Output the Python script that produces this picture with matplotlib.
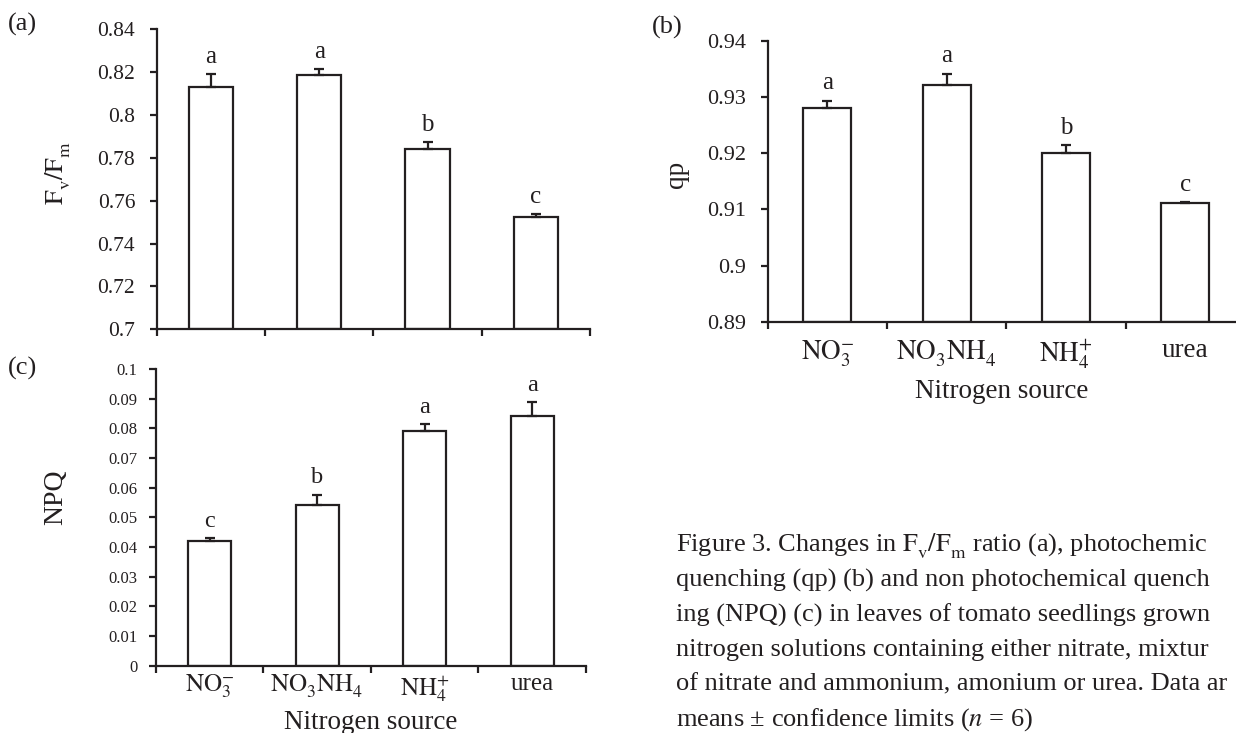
import numpy as np
import matplotlib
matplotlib.use("Agg")
import matplotlib.pyplot as plt

plt.rcParams["font.family"] = ["Liberation Serif", "DejaVu Serif"]
plt.rcParams["mathtext.fontset"] = "stix"

ink = "#231f20"

# an empty superscript pushes the subscript down like in the print
sources = ["$\\mathrm{NO}_{3}^{-}$", "$\\mathrm{NO}_{3}^{\\,}\\mathrm{NH}_{4}^{\\,}$",
           "$\\mathrm{NH}_{4}^{+}$", "urea"]

# (a) Fv/Fm
fvfm = [0.813, 0.8185, 0.784, 0.7525]
fvfm_err = [0.006, 0.003, 0.0036, 0.0012]
fvfm_letters = ["a", "a", "b", "c"]
fvfm_ticks = [0.7, 0.72, 0.74, 0.76, 0.78, 0.8, 0.82, 0.84]

# (b) qp
qp = [0.9281, 0.9321, 0.9200, 0.9112]
qp_err = [0.0013, 0.0021, 0.0014, 0.0001]
qp_letters = ["a", "a", "b", "c"]
qp_ticks = [0.89, 0.9, 0.91, 0.92, 0.93, 0.94]

# (c) NPQ
npq = [0.042, 0.054, 0.079, 0.084]
npq_err = [0.001, 0.0037, 0.0024, 0.005]
npq_letters = ["c", "b", "a", "a"]
npq_ticks = [0, 0.01, 0.02, 0.03, 0.04, 0.05, 0.06, 0.07, 0.08, 0.09, 0.1]

fvfm_label = "$\\mathrm{F}_{\\mathrm{v}}^{\\,}/\\mathrm{F}_{\\mathrm{m}}^{\\,}$"

# caption as far as it is visible (the page cuts it at the right edge)
caption = [
    "Figure 3. Changes in " + fvfm_label + " ratio (a), photochemic",
    "quenching (qp) (b) and non photochemical quench",
    "ing (NPQ) (c) in leaves of tomato seedlings grown",
    "nitrogen solutions containing either nitrate, mixtur",
    "of nitrate and ammonium, amonium or urea. Data ar",
    "means \u00b1 confidence limits ($n$ = 6)",
]

fig = plt.figure(figsize=(12.36, 7.33), dpi=100)


def panel(rect, vals, errs, letters, ticks, width, ylab, ytick_fs, xtick_fs,
          xtick_pad, ytick_pad, ylab_fs, ylab_xy, letter_fs, xlabel_y=None,
          show_x=True):
    ax = fig.add_axes(rect)
    x = np.arange(len(vals)) + 0.5
    base = ticks[0]
    vals = np.array(vals)
    ax.bar(x, vals - base, bottom=base, width=width, color="white",
           edgecolor=ink, linewidth=1.6, zorder=2)
    ax.errorbar(x, vals, yerr=[np.zeros(len(vals)), errs], fmt="none",
                ecolor=ink, elinewidth=1.6, capsize=3.5, capthick=1.6, zorder=3)
    for xi, v, e, l in zip(x, vals, errs, letters):
        ax.annotate(l, (xi, v + e), xytext=(0, 8), textcoords="offset points",
                    ha="center", va="baseline", fontsize=letter_fs, color=ink)
    ax.set_xlim(0, len(vals))
    ax.set_ylim(ticks[0], ticks[-1])
    ax.set_yticks(ticks)
    ax.set_yticklabels(["{:g}".format(t) for t in ticks])
    ax.set_xticks(np.arange(len(vals) + 1))
    ax.set_xticklabels([])
    if show_x:
        ax.set_xticks(x, sources, minor=True)
        ax.tick_params(axis="x", which="minor", length=0, pad=xtick_pad,
                       labelsize=xtick_fs, labelcolor=ink)
    ax.tick_params(axis="x", which="major", length=5, width=1.6, color=ink,
                   direction="out")
    ax.tick_params(axis="y", length=5, width=1.6, color=ink, direction="out",
                   pad=ytick_pad, labelsize=ytick_fs, labelcolor=ink)
    for s in ["top", "right"]:
        ax.spines[s].set_visible(False)
    for s in ["left", "bottom"]:
        ax.spines[s].set_linewidth(1.6)
        ax.spines[s].set_color(ink)
    ax.set_ylabel(ylab, fontsize=ylab_fs, color=ink)
    ax.yaxis.set_label_coords(*ylab_xy)
    ax.yaxis.label.set_verticalalignment("center")
    if xlabel_y is not None:
        ax.set_xlabel("Nitrogen source", fontsize=19.5, color=ink)
        ax.xaxis.set_label_coords(xlabel_y[0], xlabel_y[1])
        ax.xaxis.label.set_verticalalignment("baseline")
    return ax


panel([0.1268, 0.5507, 0.3506, 0.4093], fvfm, fvfm_err, fvfm_letters,
      fvfm_ticks, 0.41, fvfm_label, 15.5, 18, 8, 10.5,
      19, (-0.228, 0.52), 18, show_x=False)

panel([0.6211, 0.5611, 0.3862, 0.3829], qp, qp_err, qp_letters,
      qp_ticks, 0.40, "qp", 16, 19.5, 12, 10.5,
      19.5, (-0.190, 0.523), 18, xlabel_y=(0.49, -0.272))

panel([0.1260, 0.0918, 0.3481, 0.4048], npq, npq_err, npq_letters,
      npq_ticks, 0.40, "NPQ", 12, 18, 5, 8,
      20, (-0.232, 0.569), 17.5, xlabel_y=(0.5, -0.2133))

fig.text(0.0178, 0.966, "(a)", fontsize=19, color=ink, ha="center", va="center")
fig.text(0.5397, 0.963, "(b)", fontsize=19, color=ink, ha="center", va="center")
fig.text(0.0178, 0.498, "(c)", fontsize=19, color=ink, ha="center", va="center")

for i, line in enumerate(caption):
    y_px = 551.7 + 34.7 * i
    fig.text(676 / 1236, 1 - y_px / 733, line, fontsize=19, color=ink,
             ha="left", va="baseline")

fig.savefig("out.png", dpi=100)
